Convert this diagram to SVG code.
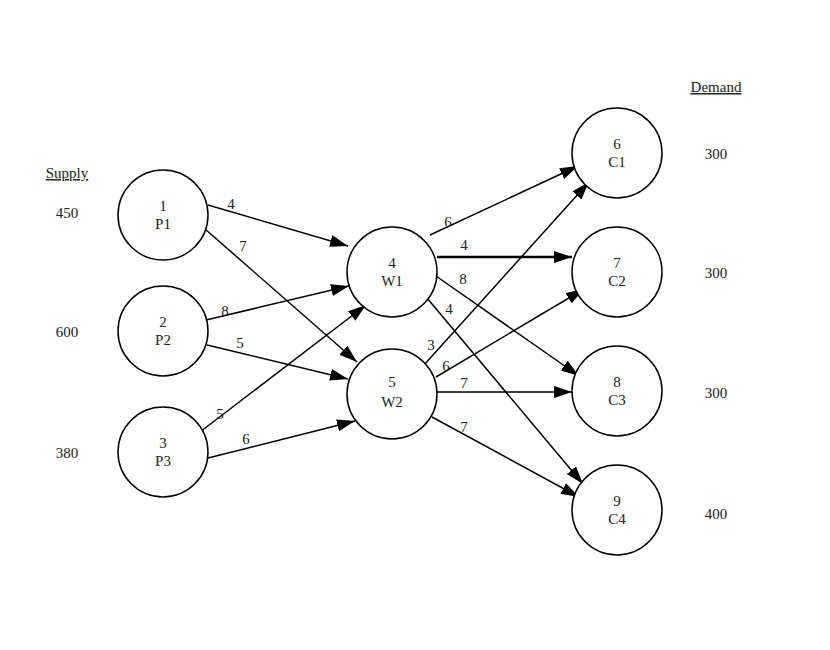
<svg xmlns="http://www.w3.org/2000/svg" width="830" height="650" viewBox="0 0 830 650">
<style>
circle{fill:#fff;stroke:#000;stroke-width:1.5}
text{font-family:"Liberation Serif",serif;font-size:15px;fill:#222;text-anchor:middle}
.e line{stroke:#000;stroke-width:1.5;marker-end:url(#a)}
</style>
<defs><marker id="a" markerUnits="userSpaceOnUse" markerWidth="20" markerHeight="14" refX="18" refY="6" orient="auto"><path d="M0,0L18,6L0,12Z" fill="#000"/></marker></defs>
<rect width="830" height="650" fill="#fff"/>
<g id="connectors" class="e">
<line x1="208" y1="205" x2="348" y2="246"/>
<line x1="205" y1="229" x2="357" y2="362"/>
<line x1="206" y1="320" x2="349" y2="286"/>
<line x1="207" y1="345" x2="348" y2="379"/>
<line x1="200" y1="432" x2="366" y2="305"/>
<line x1="208" y1="458" x2="355" y2="421"/>
<line x1="430" y1="235" x2="578" y2="166"/>
<line x1="437" y1="257" x2="572" y2="257" style="stroke-width:2.5"/>
<line x1="436" y1="276" x2="579" y2="376"/>
<line x1="427" y1="298" x2="583" y2="484"/>
<line x1="424" y1="365" x2="589" y2="182"/>
<line x1="436" y1="377" x2="584" y2="289"/>
<line x1="437" y1="392" x2="572" y2="392"/>
<line x1="432" y1="417" x2="579" y2="497"/>
</g>
<g id="edge-labels">
<text x="231" y="209">4</text><text x="243" y="251">7</text>
<text x="225" y="316">8</text><text x="240" y="348">5</text>
<text x="220" y="419">5</text><text x="246" y="444">6</text>
<text x="448" y="227">6</text><text x="464" y="250">4</text>
<text x="463" y="284">8</text><text x="449" y="314">4</text>
<text x="431" y="350">3</text><text x="446" y="371">6</text>
<text x="464" y="388">7</text><text x="464" y="432">7</text>
</g>
<g id="P1"><circle cx="163" cy="215" r="45"/><text x="163" y="211">1</text><text x="163" y="229">P1</text></g>
<g id="P2"><circle cx="163" cy="331" r="45"/><text x="163" y="327">2</text><text x="163" y="345">P2</text></g>
<g id="P3"><circle cx="163" cy="452" r="45"/><text x="163" y="448">3</text><text x="163" y="466">P3</text></g>
<g id="W1"><circle cx="392" cy="272" r="45"/><text x="392" y="268">4</text><text x="392" y="286">W1</text></g>
<g id="W2"><circle cx="392" cy="394" r="45"/><text x="392" y="387">5</text><text x="392" y="407">W2</text></g>
<g id="C1"><circle cx="617" cy="153" r="45"/><text x="617" y="149">6</text><text x="617" y="167">C1</text></g>
<g id="C2"><circle cx="617" cy="272" r="45"/><text x="617" y="268">7</text><text x="617" y="286">C2</text></g>
<g id="C3"><circle cx="617" cy="391" r="45"/><text x="617" y="387">8</text><text x="617" y="405">C3</text></g>
<g id="C4"><circle cx="617" cy="510" r="45"/><text x="617" y="506">9</text><text x="617" y="524">C4</text></g>
<g id="supply">
<text x="67" y="178" text-decoration="underline">Supply</text>
<text x="67" y="218">450</text><text x="67" y="337">600</text><text x="67" y="458">380</text>
</g>
<g id="demand">
<text x="716" y="92" text-decoration="underline">Demand</text>
<text x="716" y="159">300</text><text x="716" y="278">300</text><text x="716" y="398">300</text><text x="716" y="519">400</text>
</g>
</svg>
